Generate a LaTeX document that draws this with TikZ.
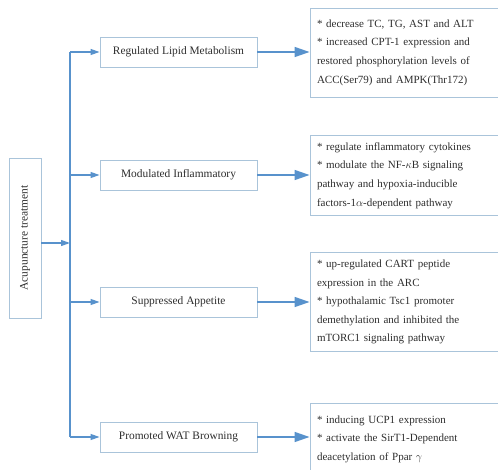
\documentclass[tikz,border=0pt]{standalone}
\usepackage{fontspec}
\setmainfont{Liberation Serif}
\usepackage{amsmath}
\usetikzlibrary{arrows.meta}
\definecolor{arrblue}{RGB}{88,146,204}
\definecolor{boxline}{RGB}{170,196,218}
\definecolor{txt}{RGB}{45,45,45}
\tikzset{
  midbox/.style = {draw=boxline, line width=0.9pt, minimum width=157pt,
    minimum height=30pt, inner sep=0pt, text=txt,
    font=\fontsize{11.4}{14}\selectfont},
  outbox/.style = {draw=boxline, line width=0.9pt, minimum width=188pt,
    text width=174pt, inner sep=7pt, align=left, text=txt,
    font=\fontsize{11}{18.6}\selectfont},
  smallarr/.style = {arrblue, line width=1.2pt, -{Triangle[length=9pt,width=6pt]}},
  bigarr/.style = {arrblue, line width=1.5pt, -{Triangle[length=15pt,width=10pt]}}
}

\begin{document}
\begin{tikzpicture}[x=1pt, y=-1pt]
\useasboundingbox (0,0) rectangle (498,470);
\clip (0,0) rectangle (498,470);

\node[midbox, minimum width=160pt, minimum height=32pt, rotate=90] (acu) at (25,238) {Acupuncture treatment};

\node[midbox] (lipid) at (178.5,52) {Regulated Lipid Metabolism};
\node[midbox] (inflam) at (178.5,175) {Modulated Inflammatory};
\node[midbox] (appet) at (178.5,302) {Suppressed Appetite};
\node[midbox] (wat) at (178.5,437) {Promoted WAT Browning};

\node[outbox, minimum height=89pt] (lipidtxt) at (404,52.5)
  {* decrease TC, TG, AST and ALT\\ * increased CPT-1 expression and\\ restored phosphorylation levels of\\ ACC(Ser79) and AMPK(Thr172)};
\node[outbox, minimum height=79pt] (inflamtxt) at (404,175.5)
  {* regulate inflammatory cytokines\\ * modulate the NF-$\kappa$B signaling\\ pathway and hypoxia-inducible\\ factors-1$\alpha$-dependent pathway};
\node[outbox, minimum height=98pt] (appettxt) at (404,302)
  {* up-regulated CART peptide\\ expression in the ARC\\ * hypothalamic Tsc1 promoter\\ demethylation and inhibited the\\ mTORC1 signaling pathway};
\node[outbox, minimum height=72pt] (wattxt) at (404,439)
  {* inducing UCP1 expression\\ * activate the SirT1-Dependent\\ deacetylation of Ppar $\gamma$};

\coordinate (top) at (70,52);
\coordinate (bot) at (70,437);
\coordinate (split) at (70,243);

\draw[arrblue, line width=1.2pt] (top) -- (bot);
\draw[smallarr] (acu.south |- split) -- (split);

\draw[smallarr] (top) -- (lipid.west);
\draw[smallarr] (inflam.west -| top) -- (inflam.west);
\draw[smallarr] (appet.west -| top) -- (appet.west);
\draw[smallarr] (bot) -- (wat.west);

\draw[bigarr] (lipid.east) -- (lipid.east -| lipidtxt.west);
\draw[bigarr] (inflam.east) -- (inflam.east -| inflamtxt.west);
\draw[bigarr] (appet.east) -- (appet.east -| appettxt.west);
\draw[bigarr] (wat.east) -- (wat.east -| wattxt.west);

\end{tikzpicture}
\end{document}
